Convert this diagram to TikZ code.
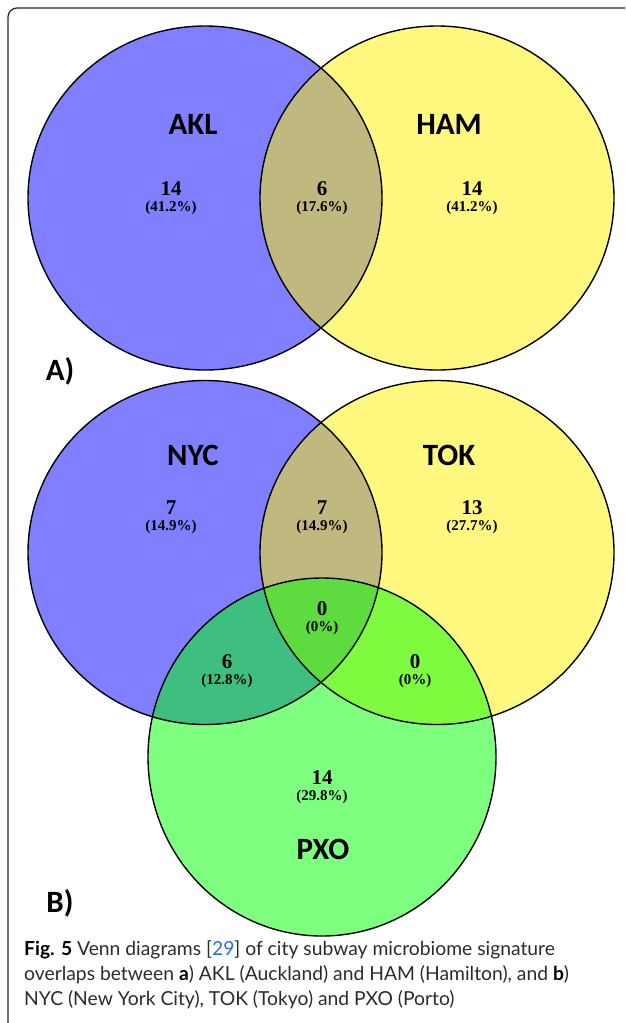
\documentclass[tikz,border=0pt]{standalone}
\usepackage{fontspec}
\usepackage{xcolor}
\newfontfamily\labfont{Carlito}
\newfontfamily\numfont{Liberation Serif}
\newfontfamily\capfont{Lato}
\definecolor{refblue}{HTML}{2A6EDB}
\definecolor{captext}{HTML}{2B2B2B}
\begin{document}
\begin{tikzpicture}[x=1pt,y=-1pt,
  setlab/.style={inner sep=0pt,font=\labfont\bfseries\fontsize{31}{31}\selectfont},
  cnt/.style={inner sep=0pt,font=\numfont\bfseries\fontsize{21}{21}\selectfont},
  pct/.style={inner sep=0pt,font=\numfont\bfseries\fontsize{15}{15}\selectfont},
  panel/.style={inner sep=0pt,font=\labfont\bfseries\fontsize{31}{31}\selectfont},
  captxt/.style={inner sep=0pt,anchor=base west,text=captext,font=\capfont\fontsize{19.3}{25}\selectfont},
  venn/.style={draw=black,line width=1.4pt}]
\useasboundingbox (0,0) rectangle (625,1023);
% frame
\begin{scope}
\clip (0,0) rectangle (625,1023);
\draw[line width=1.2pt,draw=black!85,rounded corners=9pt] (8,8) rectangle (700,1040);
\end{scope}
% panel A fills
\fill[blue,fill opacity=0.5] (205,198) ellipse [x radius=177pt,y radius=172pt];
\fill[yellow,fill opacity=0.5] (437,198) ellipse [x radius=177pt,y radius=172pt];
\draw[venn] (205,198) ellipse [x radius=177pt,y radius=172pt];
\draw[venn] (437,198) ellipse [x radius=177pt,y radius=172pt];
% panel B fills
\fill[blue,fill opacity=0.5] (205,552.5) ellipse [x radius=177pt,y radius=172pt];
\fill[yellow,fill opacity=0.5] (437,552.5) ellipse [x radius=177pt,y radius=172pt];
\fill[green,fill opacity=0.5] (322,757) ellipse [x radius=174pt,y radius=179pt];
\draw[venn] (205,552.5) ellipse [x radius=177pt,y radius=172pt];
\draw[venn] (437,552.5) ellipse [x radius=177pt,y radius=172pt];
\draw[venn] (322,757) ellipse [x radius=174pt,y radius=179pt];
% labels panel A
\node[setlab] (akl) at (193,124) {AKL};
\node[setlab] (ham) at (449,124) {HAM};
\node[cnt] (a1) at (171,189) {14};
\node[pct] (a1p) at (171,208) {(41.2\%)};
\node[cnt] (a2) at (322,189) {6};
\node[pct] (a2p) at (322,208) {(17.6\%)};
\node[cnt] (a3) at (472,189) {14};
\node[pct] (a3p) at (472,208) {(41.2\%)};
\node[panel] (pa) at (60,371) {A)};
% labels panel B
\node[setlab] (nyc) at (193,455) {NYC};
\node[setlab] (tok) at (449,455) {TOK};
\node[setlab] (pxo) at (323,849) {PXO};
\node[cnt] (b1) at (171,508) {7};
\node[pct] (b1p) at (171,527) {(14.9\%)};
\node[cnt] (b2) at (322,508) {7};
\node[pct] (b2p) at (322,527) {(14.9\%)};
\node[cnt] (b3) at (472,508) {13};
\node[pct] (b3p) at (472,527) {(27.7\%)};
\node[cnt] (b4) at (322,609) {0};
\node[pct] (b4p) at (322,628) {(0\%)};
\node[cnt] (b5) at (227,662) {6};
\node[pct] (b5p) at (227,681) {(12.8\%)};
\node[cnt] (b6) at (415,662) {0};
\node[pct] (b6p) at (415,681) {(0\%)};
\node[cnt] (b7) at (322,778) {14};
\node[pct] (b7p) at (322,797) {(29.8\%)};
\node[panel] (pb) at (60,903) {B)};
% caption
\node[captxt] (cap1) at (24,955) {\textcolor{black}{\textbf{Fig. 5}} Venn diagrams [\textcolor{refblue}{29}] of city subway microbiome signature};
\node[captxt] (cap2) at (24,980) {overlaps between \textcolor{black}{\textbf{a}}) AKL (Auckland) and HAM (Hamilton), and \textcolor{black}{\textbf{b}})};
\node[captxt] (cap3) at (24,1005) {NYC (New York City), TOK (Tokyo) and PXO (Porto)};
\end{tikzpicture}
\end{document}
